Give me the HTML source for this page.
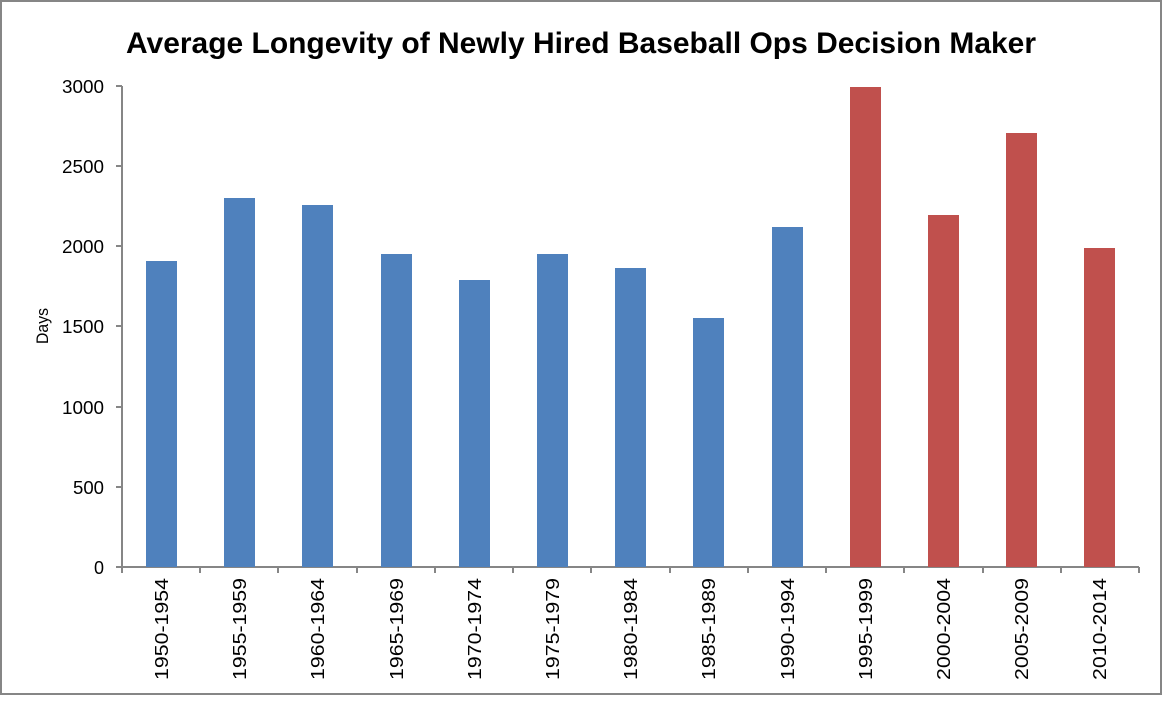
<!DOCTYPE html><html><head><style>body{margin:0;background:#fff}</style></head><body>
<svg width="1163" height="696" xmlns="http://www.w3.org/2000/svg" font-family="Liberation Sans, sans-serif">
<rect x="1" y="1" width="1160" height="693" fill="#fff" stroke="#868686" stroke-width="2"/>
<text x="581" y="53" text-anchor="middle" font-size="30" font-weight="bold" textLength="910" lengthAdjust="spacingAndGlyphs">Average Longevity of Newly Hired Baseball Ops Decision Maker</text>
<text transform="translate(48,326) rotate(-90)" text-anchor="middle" font-size="17" textLength="36" lengthAdjust="spacingAndGlyphs">Days</text>
<g font-size="18" text-anchor="end">
<text x="104" y="93" textLength="42" lengthAdjust="spacingAndGlyphs">3000</text><text x="104" y="173" textLength="42" lengthAdjust="spacingAndGlyphs">2500</text><text x="104" y="253" textLength="42" lengthAdjust="spacingAndGlyphs">2000</text><text x="104" y="333" textLength="42" lengthAdjust="spacingAndGlyphs">1500</text><text x="104" y="414" textLength="42" lengthAdjust="spacingAndGlyphs">1000</text><text x="104" y="494" textLength="31" lengthAdjust="spacingAndGlyphs">500</text><text x="104" y="574">0</text>
</g>
<g stroke="#868686" stroke-width="2" fill="none">
<path d="M122 86V568M116 86H122M116 166H122M116 246H122M116 326H122M116 407H122M116 487H122M116 567H122M122 567H1139"/>
<path d="M122 567v6M200 567v6M278 567v6M357 567v6M435 567v6M513 567v6M591 567v6M670 567v6M748 567v6M826 567v6M904 567v6M983 567v6M1061 567v6M1139 567v6"/>
</g>
<g fill="#4f81bd">
<rect x="146" y="261" width="31" height="306"/><rect x="224" y="198" width="31" height="369"/><rect x="302" y="205" width="31" height="362"/><rect x="381" y="254" width="31" height="313"/><rect x="459" y="280" width="31" height="287"/><rect x="537" y="254" width="31" height="313"/><rect x="615" y="268" width="31" height="299"/><rect x="693" y="318" width="31" height="249"/><rect x="772" y="227" width="31" height="340"/>
</g>
<g fill="#c0504d">
<rect x="850" y="87" width="31" height="480"/><rect x="928" y="215" width="31" height="352"/><rect x="1006" y="133" width="31" height="434"/><rect x="1084" y="248" width="31" height="319"/>
</g>
<g font-size="18" text-anchor="end">
<text transform="translate(168,578) rotate(-90)" textLength="102" lengthAdjust="spacingAndGlyphs">1950-1954</text>
<text transform="translate(246,578) rotate(-90)" textLength="102" lengthAdjust="spacingAndGlyphs">1955-1959</text>
<text transform="translate(324,578) rotate(-90)" textLength="102" lengthAdjust="spacingAndGlyphs">1960-1964</text>
<text transform="translate(403,578) rotate(-90)" textLength="102" lengthAdjust="spacingAndGlyphs">1965-1969</text>
<text transform="translate(481,578) rotate(-90)" textLength="102" lengthAdjust="spacingAndGlyphs">1970-1974</text>
<text transform="translate(559,578) rotate(-90)" textLength="102" lengthAdjust="spacingAndGlyphs">1975-1979</text>
<text transform="translate(637,578) rotate(-90)" textLength="102" lengthAdjust="spacingAndGlyphs">1980-1984</text>
<text transform="translate(715,578) rotate(-90)" textLength="102" lengthAdjust="spacingAndGlyphs">1985-1989</text>
<text transform="translate(794,578) rotate(-90)" textLength="102" lengthAdjust="spacingAndGlyphs">1990-1994</text>
<text transform="translate(872,578) rotate(-90)" textLength="102" lengthAdjust="spacingAndGlyphs">1995-1999</text>
<text transform="translate(950,578) rotate(-90)" textLength="102" lengthAdjust="spacingAndGlyphs">2000-2004</text>
<text transform="translate(1028,578) rotate(-90)" textLength="102" lengthAdjust="spacingAndGlyphs">2005-2009</text>
<text transform="translate(1106,578) rotate(-90)" textLength="102" lengthAdjust="spacingAndGlyphs">2010-2014</text>
</g>
</svg></body></html>
